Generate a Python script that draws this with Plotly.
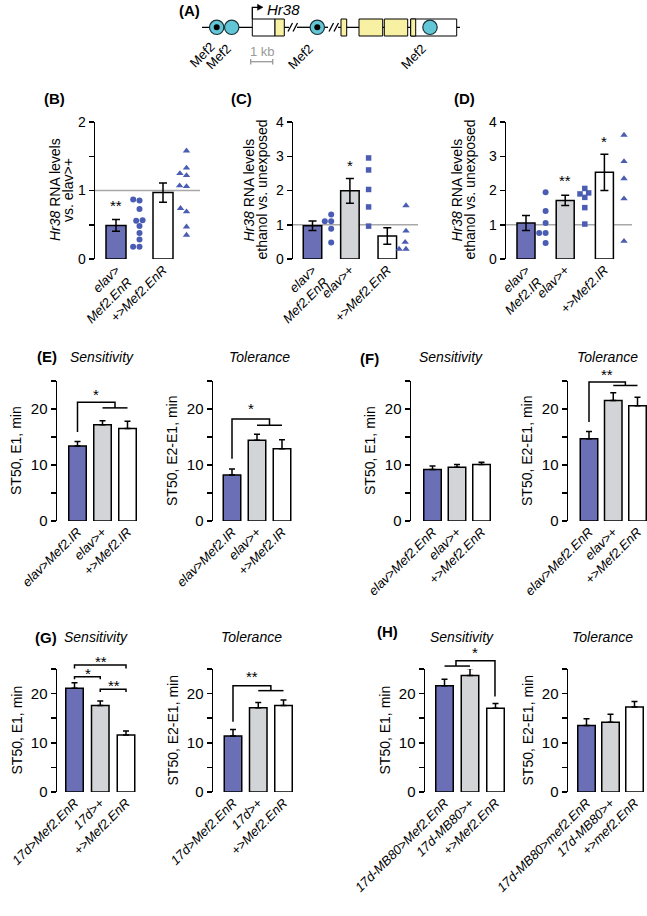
import plotly.graph_objects as go

W, H = 647, 916
FONT = "Liberation Sans, Arial, Helvetica, sans-serif"

# ---------------- data ----------------
# (B) Hr38 RNA levels vs. elav>+
b_labels = ["elav><br>Mef2.EnR", "+>Mef2.EnR"]
b_means = [0.49, 0.97]
b_sem = [0.085, 0.14]
b_pts_enr = [0.87, 0.855, 0.73, 0.565, 0.56, 0.48, 0.38, 0.285, 0.18, 0.18]
b_pts_ctrl = [1.58, 1.33, 1.25, 1.22, 1.07, 1.06, 0.74, 0.69, 0.47, 0.35]

# (C) Hr38 RNA levels, ethanol vs. unexposed
c_labels = ["elav><br>Mef2.EnR", "elav>+", "+>Mef2.EnR"]
c_means = [0.97, 1.99, 0.67]
c_sem = [0.14, 0.36, 0.24]
c_pts_enr = [1.3, 1.1, 1.1, 0.88, 0.48]
c_pts_elav = [2.95, 2.6, 2.03, 1.52, 0.96]
c_pts_ctrl = [1.56, 0.82, 0.49, 0.29, 0.29]

# (D) Hr38 RNA levels, ethanol vs. unexposed
d_labels = ["elav><br>Mef2.IR", "elav>+", "+>Mef2.IR"]
d_means = [1.05, 1.71, 2.53]
d_sem = [0.22, 0.15, 0.53]
d_pts_ir = [1.95, 1.4, 1.05, 0.76, 0.76, 0.47]
d_pts_elav = [2.06, 1.93, 1.9, 1.8, 1.5, 1.02]
d_pts_ctrl = [4.1, 3.62, 2.85, 2.35, 1.76, 0.52]

# (E)
e_labels = ["elav>Mef2.IR", "elav>+", "+>Mef2.IR"]
e_sens = [13.4, 17.2, 16.5]
e_sens_sem = [0.8, 0.7, 1.3]
e_tol = [8.2, 14.4, 12.9]
e_tol_sem = [1.1, 1.1, 1.6]

# (F)
f_labels = ["elav>Mef2.EnR", "elav>+", "+>Mef2.EnR"]
f_sens = [9.2, 9.6, 10.1]
f_sens_sem = [0.6, 0.5, 0.4]
f_tol = [14.7, 21.5, 20.6]
f_tol_sem = [1.3, 1.4, 1.5]

# (G)
g_labels = ["17d>Mef2.EnR", "17d>+", "+>Mef2.EnR"]
g_sens = [21.1, 17.6, 11.6]
g_sens_sem = [1.1, 0.9, 0.8]
g_tol = [11.4, 17.1, 17.6]
g_tol_sem = [1.3, 1.1, 1.1]

# (H)
h_sens_labels = ["17d-MB80>Mef2.EnR", "17d-MB80>+", "+>Mef2.EnR"]
h_tol_labels = ["17d-MB80>mef2.EnR", "17d-MB80>+", "+>mef2.EnR"]
h_sens = [21.6, 23.7, 17.0]
h_sens_sem = [1.3, 1.4, 1.0]
h_tol = [13.5, 14.2, 17.3]
h_tol_sem = [1.4, 1.6, 1.1]

rna_ticks = [0, 0.5, 1, 1.5, 2]
rna_ticktext = ["0", "", "1", "", "2"]
rna4_ticks = [0, 1, 2, 3, 4]
st_ticks = [0, 5, 10, 15, 20, 25]
st_ticktext = ["0", "", "10", "", "20", ""]

# ---------------- styling ----------------
BLUE = "#6b6fb5"
GREY = "#d3d4d7"
WHITE = "#ffffff"
PT_COLOR = "#4a5db3"
CYAN = "#62c6d6"
YELLOW = "#f8f0a2"

fig = go.Figure()
layout = dict(width=W, height=H, margin=dict(l=0, r=0, t=0, b=0),
              paper_bgcolor="white", plot_bgcolor="rgba(0,0,0,0)",
              showlegend=False, template="none",
              font=dict(family=FONT, size=13, color="black"))
shapes, annotations = [], []
panels = {}
counter = [0]


def P(x, y):
    return x / W, 1 - y / H


def add_panel(name, ax_px, c0, sp, end_px, y0_px, ytop_px, ymax, bar_px,
              tickvals, ticktext, ytickvals, yticktext, yfont):
    counter[0] += 1
    n = counter[0]
    sfx = "" if n == 1 else str(n)
    p = dict(xref="x" + sfx, yref="y" + sfx, ax=ax_px, c0=c0, sp=sp, end=end_px,
             y0=y0_px, ytop=ytop_px, ymax=ymax, bw=bar_px / sp)
    panels[name] = p
    tt = ["<br>".join("<i>%s</i>" % part for part in t.split("<br>")) for t in ticktext]
    layout["xaxis" + sfx] = dict(domain=[ax_px / W, min(end_px / W, 1)],
                                 range=[(ax_px - c0) / sp, (end_px - c0) / sp],
                                 anchor="y" + sfx, showline=False, showgrid=False,
                                 zeroline=False, ticks="", tickvals=tickvals,
                                 ticktext=tt, tickangle=-45,
                                 tickfont=dict(size=13), automargin=False)
    layout["yaxis" + sfx] = dict(domain=[1 - y0_px / H, 1 - ytop_px / H],
                                 range=[0, ymax], anchor="x" + sfx,
                                 showline=True, linecolor="black", linewidth=1.5,
                                 ticks="outside", ticklen=5, tickwidth=1.5,
                                 tickcolor="black", tickvals=ytickvals,
                                 ticktext=yticktext, showgrid=False, zeroline=False,
                                 tickfont=dict(size=yfont), automargin=False)
    return p


def to_paper(p, x, y):
    px = p["c0"] + x * p["sp"]
    py = p["y0"] - y * (p["y0"] - p["ytop"]) / p["ymax"]
    return P(px, py)


def beeswarm(vals, ppu, d):
    order = sorted(range(len(vals)), key=lambda i: vals[i])
    placed = []
    xs = [0.0] * len(vals)
    for i in order:
        y = vals[i] * ppu
        iv = []
        for xj, yj in placed:
            dy = abs(y - yj)
            if dy < d:
                w = (d * d - dy * dy) ** 0.5
                iv.append((xj - w, xj + w))
        cands = [0.0] + [a for a, b in iv] + [b for a, b in iv]
        cands.sort(key=lambda c: (abs(c), c))
        for c in cands:
            if all(not (a + 1e-6 < c < b - 1e-6) for a, b in iv):
                xs[i] = c
                break
        placed.append((xs[i], y))
    return xs


def add_bars(p, slots, means, sem, colors, two_sided, capw):
    err = dict(type="data", array=sem, color="black", thickness=1.5, width=capw)
    if two_sided:
        err["symmetric"] = True
    else:
        err["symmetric"] = False
        err["arrayminus"] = [0] * len(sem)
    fig.add_trace(go.Bar(x=slots, y=means, width=p["bw"],
                         marker=dict(color=colors, line=dict(color="black", width=1.5)),
                         error_y=err, xaxis=p["xref"], yaxis=p["yref"],
                         cliponaxis=False, hoverinfo="skip"))


def add_points(p, slot, vals, symbol, size):
    ppu = (p["y0"] - p["ytop"]) / p["ymax"]
    offs = beeswarm(vals, ppu, size + 0.4)
    xs = [slot + o / p["sp"] for o in offs]
    fig.add_trace(go.Scatter(x=xs, y=vals, mode="markers",
                             marker=dict(symbol=symbol, size=size, color=PT_COLOR,
                                         line=dict(width=0)),
                             xaxis=p["xref"], yaxis=p["yref"], cliponaxis=False,
                             hoverinfo="skip"))


def ref_line(p, yval):
    x0, y = to_paper(p, 0, yval)
    shapes.append(dict(type="line", xref="paper", yref="paper", layer="below",
                       x0=p["ax"] / W, x1=min(p["end"], W) / W, y0=y, y1=y,
                       line=dict(color="#a8a8a8", width=1.5)))


def bracket(p, pts):
    coords = [to_paper(p, x, y) for x, y in pts]
    path = "M " + " L ".join("%.5f,%.5f" % c for c in coords)
    shapes.append(dict(type="path", xref="paper", yref="paper", path=path,
                       line=dict(color="black", width=1.5)))


def stars(p, x, y, txt):
    px, py = to_paper(p, x, y)
    annotations.append(dict(x=px, y=py, xref="paper", yref="paper", text=txt,
                            showarrow=False, font=dict(size=15),
                            xanchor="center", yanchor="middle", yshift=-3))


def text(x, y, t, size=13, angle=0, color="black", xa="center", ya="middle"):
    px, py = P(x, y)
    annotations.append(dict(x=px, y=py, xref="paper", yref="paper", text=t,
                            showarrow=False, textangle=angle,
                            font=dict(size=size, color=color),
                            xanchor=xa, yanchor=ya))


# ---------------- (B) ----------------
pb = add_panel("B", 95, 116, 23.5, 200, 259, 122, 2, 20, [0, 2], b_labels,
               rna_ticks, rna_ticktext, 14)
ref_line(pb, 1)
add_bars(pb, [0, 2], b_means, b_sem, [BLUE, WHITE], True, 4)
add_points(pb, 1, b_pts_enr, "circle", 6)
add_points(pb, 3, b_pts_ctrl, "triangle-up", 6.5)
stars(pb, 0, 0.82, "**")

# ---------------- (C) ----------------
pc = add_panel("C", 293, 312.5, 18.7, 418, 259, 122, 4, 18.5, [0, 2, 4], c_labels,
               rna4_ticks, [str(v) for v in rna4_ticks], 14)
ref_line(pc, 1)
add_bars(pc, [0, 2, 4], c_means, c_sem, [BLUE, GREY, WHITE], True, 4)
add_points(pc, 1, c_pts_enr, "circle", 6)
add_points(pc, 3, c_pts_elav, "square", 5.5)
add_points(pc, 5, c_pts_ctrl, "triangle-up", 6.5)
stars(pc, 2, 2.81, "*")

# ---------------- (D) ----------------
pd_ = add_panel("D", 506, 526, 19.6, 632, 259, 122, 4, 18, [0, 2, 4], d_labels,
                rna4_ticks, [str(v) for v in rna4_ticks], 14)
ref_line(pd_, 1)
add_bars(pd_, [0, 2, 4], d_means, d_sem, [BLUE, GREY, WHITE], True, 4)
add_points(pd_, 1, d_pts_ir, "circle", 6)
add_points(pd_, 3, d_pts_elav, "square", 5.5)
add_points(pd_, 5, d_pts_ctrl, "triangle-up", 6.5)
stars(pd_, 2, 2.37, "**")
stars(pd_, 4, 3.52, "*")

# ---------------- (E)-(H) ----------------
COLS3 = [BLUE, GREY, WHITE]
pe1 = add_panel("E1", 57, 77.5, 25, 140, 521, 381, 25, 17.5, [0, 1, 2], e_labels, st_ticks, st_ticktext, 15)
add_bars(pe1, [0, 1, 2], e_sens, e_sens_sem, COLS3, False, 3)
pe2 = add_panel("E2", 213, 232, 25, 296, 521, 381, 25, 17.5, [0, 1, 2], e_labels, st_ticks, st_ticktext, 15)
add_bars(pe2, [0, 1, 2], e_tol, e_tol_sem, COLS3, False, 3)
pf1 = add_panel("F1", 411, 432.5, 24.5, 495, 521, 381, 25, 17.5, [0, 1, 2], f_labels, st_ticks, st_ticktext, 15)
add_bars(pf1, [0, 1, 2], f_sens, f_sens_sem, COLS3, False, 3)
pf2 = add_panel("F2", 568, 589, 24.25, 647, 521, 381, 25, 17.5, [0, 1, 2], f_labels, st_ticks, st_ticktext, 15)
add_bars(pf2, [0, 1, 2], f_tol, f_tol_sem, COLS3, False, 3)
pg1 = add_panel("G1", 57, 74.5, 25.75, 140, 792, 669, 25, 17.5, [0, 1, 2], g_labels, st_ticks, st_ticktext, 15)
add_bars(pg1, [0, 1, 2], g_sens, g_sens_sem, COLS3, False, 3)
pg2 = add_panel("G2", 213, 233, 25.25, 296, 792, 669, 25, 17.5, [0, 1, 2], g_labels, st_ticks, st_ticktext, 15)
add_bars(pg2, [0, 1, 2], g_tol, g_tol_sem, COLS3, False, 3)
ph1 = add_panel("H1", 425, 444.5, 25.5, 508, 792, 669, 25, 17.5, [0, 1, 2], h_sens_labels, st_ticks, st_ticktext, 15)
add_bars(ph1, [0, 1, 2], h_sens, h_sens_sem, COLS3, False, 3)
ph2 = add_panel("H2", 568, 586.5, 24, 647, 792, 669, 25, 17.5, [0, 1, 2], h_tol_labels, st_ticks, st_ticktext, 15)
add_bars(ph2, [0, 1, 2], h_tol, h_tol_sem, COLS3, False, 3)

# significance brackets
bracket(pe1, [(0, 15.9), (0, 21.2), (1.5, 21.2), (1.5, 20.2)])
bracket(pe1, [(1, 20.2), (2, 20.2)])
stars(pe1, 0.73, 23.2, "*")
bracket(pe2, [(0, 11.1), (0, 18.2), (1.5, 18.2), (1.5, 17.1)])
bracket(pe2, [(1, 17.1), (2, 17.1)])
stars(pe2, 0.75, 20.7, "*")
bracket(pf2, [(0, 17.7), (0, 24.8), (1.5, 24.8), (1.5, 24.2)])
bracket(pf2, [(1, 24.2), (2, 24.2)])
stars(pf2, 0.73, 26.7, "**")
bracket(pg1, [(0, 25.1), (0, 25.8), (2, 25.8), (2, 25.1)])
bracket(pg1, [(0, 22.9), (0, 23.4), (1, 23.4), (1, 22.9)])
bracket(pg1, [(1, 20.3), (1, 20.9), (2, 20.9), (2, 20.3)])
stars(pg1, 1.03, 27.2, "**")
stars(pg1, 0.54, 24.6, "*")
stars(pg1, 1.53, 22.3, "**")
bracket(pg2, [(0, 14.3), (0, 21.6), (1.5, 21.6), (1.5, 20.6)])
bracket(pg2, [(1, 20.6), (2, 20.6)])
stars(pg2, 0.74, 24.1, "**")
bracket(ph1, [(0, 25.6), (1, 25.6)])
bracket(ph1, [(0.45, 25.6), (0.45, 26.7), (1.98, 26.7), (1.98, 19.4)])
stars(ph1, 1.2, 28.9, "*")

# panel y titles
def ytitle2(cx, cy, l1, l2):
    text(cx - 6.5, cy, l1, size=14, angle=-90)
    text(cx + 6.5, cy, l2, size=14, angle=-90)

ytitle2(61.5, 190, "<i>Hr38</i> RNA levels", "vs. elav>+")
ytitle2(255, 190, "<i>Hr38</i> RNA levels", "ethanol vs. unexposed")
ytitle2(463, 190, "<i>Hr38</i> RNA levels", "ethanol vs. unexposed")
for p, t in [(pe1, "ST50, E1, min"), (pe2, "ST50, E2-E1, min"),
             (pf1, "ST50, E1, min"), (pf2, "ST50, E2-E1, min"),
             (pg1, "ST50, E1, min"), (pg2, "ST50, E2-E1, min"),
             (ph1, "ST50, E1, min"), (ph2, "ST50, E2-E1, min")]:
    text(p["ax"] - 41, (p["y0"] + p["ytop"]) / 2, t, size=14, angle=-90)

# section titles
for x, y, t in [(102, 357, "Sensitivity"), (259, 357, "Tolerance"),
                (451, 357, "Sensitivity"), (607, 357, "Tolerance"),
                (96, 637, "Sensitivity"), (251, 637, "Tolerance"),
                (462, 637, "Sensitivity"), (602, 637, "Tolerance")]:
    text(x, y, "<i>%s</i>" % t, size=14)

# panel letters
for x, y, t in [(189, 11, "(A)"), (54, 99, "(B)"), (241, 99, "(C)"), (464, 99, "(D)"),
                (47, 356, "(E)"), (369, 358, "(F)"), (46, 637, "(G)"), (387, 631, "(H)")]:
    text(x, y, "<b>%s</b>" % t, size=15)

# ---------------- (A) gene diagram ----------------
BY = 27.3
def hline(x0, x1, y, color="black", width=1.3):
    a, b = P(x0, y)
    c, d = P(x1, y)
    shapes.append(dict(type="line", xref="paper", yref="paper", x0=a, y0=b, x1=c, y1=d,
                       line=dict(color=color, width=width)))

def seg(x0, y0, x1, y1, color="black", width=1.3):
    a, b = P(x0, y0)
    c, d = P(x1, y1)
    shapes.append(dict(type="line", xref="paper", yref="paper", x0=a, y0=b, x1=c, y1=d,
                       line=dict(color=color, width=width)))

def rect(x0, x1, color):
    a, b = P(x0, 19)
    c, d = P(x1, 36)
    shapes.append(dict(type="rect", xref="paper", yref="paper", x0=a, y0=d, x1=c, y1=b,
                       fillcolor=color, line=dict(color="black", width=1)))

def circ(cx, cy, r, fill, lw=1.2):
    a, b = P(cx - r, cy + r)
    c, d = P(cx + r, cy - r)
    shapes.append(dict(type="circle", xref="paper", yref="paper", x0=a, y0=b, x1=c, y1=d,
                       fillcolor=fill, line=dict(color="#1c3338", width=lw)))

hline(202, 289, BY)
hline(297, 328, BY)
hline(338, 460, BY)
for sx in (288, 293, 329, 334):
    seg(sx, 31.5, sx + 4.5, 23)
rect(252.3, 275, WHITE)
rect(275, 284.3, YELLOW)
rect(341, 346.7, YELLOW)
rect(359, 382.7, YELLOW)
rect(384.3, 407.7, YELLOW)
rect(410.7, 456.7, WHITE)
rect(410.7, 415.7, YELLOW)
for cx, dot in [(216.7, True), (231.7, False), (317.3, True), (430, False)]:
    circ(cx, BY, 7.2, CYAN)
    if dot:
        circ(cx, BY, 3, "black", lw=0)
# transcription start arrow
a = [P(252.3, 19), P(252.3, 7.3), P(258, 7.3)]
shapes.append(dict(type="path", xref="paper", yref="paper",
                   path="M %.5f,%.5f L %.5f,%.5f L %.5f,%.5f" % (a[0] + a[1] + a[2]),
                   line=dict(color="black", width=1.3)))
t = [P(263, 7.3), P(257.5, 4.3), P(257.5, 10.3)]
shapes.append(dict(type="path", xref="paper", yref="paper",
                   path="M %.5f,%.5f L %.5f,%.5f L %.5f,%.5f Z" % (t[0] + t[1] + t[2]),
                   fillcolor="black", line=dict(color="black", width=0.5)))
text(265, 9.3, "<i>Hr38</i>", size=15, xa="left")
for x, y in [(221, 36.5), (237, 38), (319, 38), (432, 38)]:
    text(x, y, "Mef2", size=13, angle=-45, xa="right", ya="top")
text(262, 51, "1 kb", size=13, color="#999999")
hline(250.7, 272.7, 61.7, color="#999999", width=1.3)
seg(250.7, 59, 250.7, 64.5, color="#999999")
seg(272.7, 59, 272.7, 64.5, color="#999999")

layout["shapes"] = shapes
layout["annotations"] = annotations
fig.update_layout(**layout)
fig.write_html("out.html", config={"displayModeBar": False, "staticPlot": True},
               post_script="document.body.style.margin='0';document.body.style.overflow='hidden';")
